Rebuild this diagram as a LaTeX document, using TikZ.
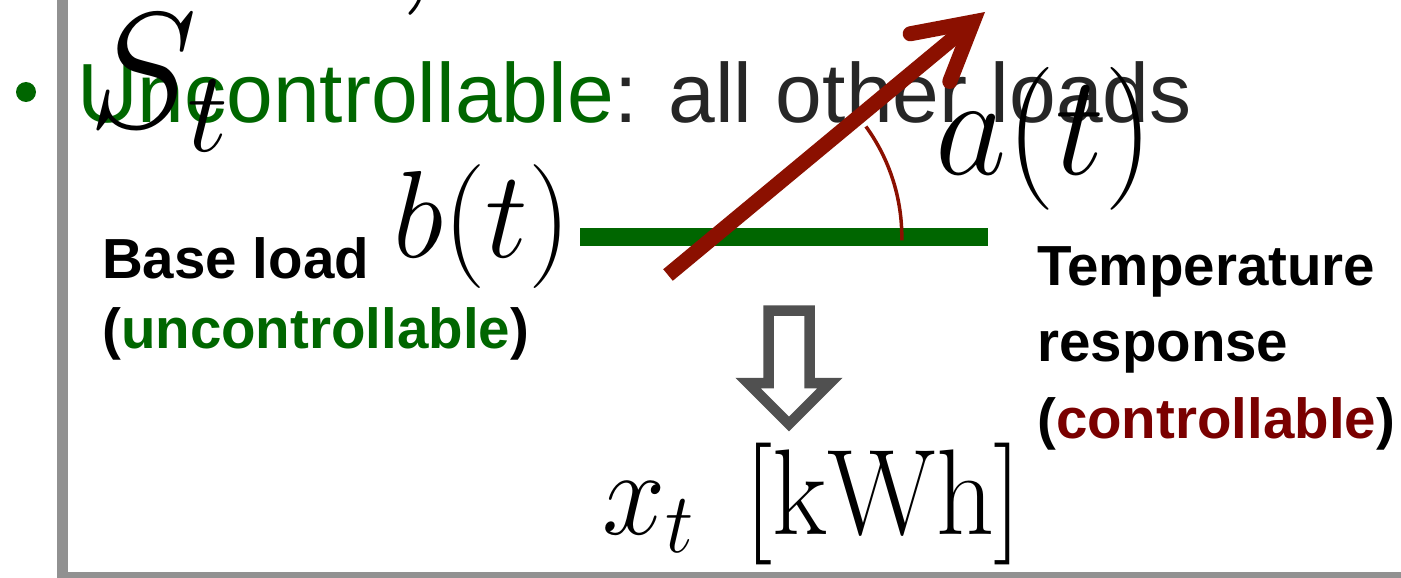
\RequirePackage{fix-cm}
\documentclass[tikz,border=0pt]{standalone}
\usepackage{fontspec}
\usepackage{graphicx}
\newfontfamily\slidefont{Liberation Sans}
\usetikzlibrary{arrows.meta}
\definecolor{loadgreen}{RGB}{0,102,0}
\definecolor{respred}{RGB}{139,16,0}
\definecolor{ctrlred}{RGB}{122,0,0}
\definecolor{framegray}{RGB}{145,145,145}
\definecolor{textgray}{RGB}{38,38,38}
\definecolor{arrgray}{RGB}{80,80,80}

\begin{document}
\begin{tikzpicture}[x=1pt, y=-1pt,
  head/.style={anchor=base west, inner sep=0pt, text=textgray, font=\slidefont\fontsize{84}{100}\selectfont},
  lbl/.style={anchor=base west, inner sep=0pt, align=left, font=\slidefont\bfseries\fontsize{56.5}{#1}\selectfont},
  sym/.style={anchor=base west, inner sep=0pt},
  frame/.style={draw=framegray, line width=11pt},
  hollow/.style={draw=arrgray, fill=white, line width=10.5pt},
  resp/.style={draw=respred, line width=15pt, -{Straight Barb[length=56pt, width=62pt, line cap=round]}},
  angle/.style={draw=respred, line width=3.5pt},
  base/.style={draw=loadgreen, line width=18pt}]
  \useasboundingbox (0,0) rectangle (1401,578);
  \draw[frame] (62,-10) -- (62,577) -- (1420,577);

  \node[circle, fill=loadgreen, minimum size=20pt, inner sep=0pt] (dot) at (26,92) {};
  \node[head] (title) at (77,122)
    {\textcolor{loadgreen}{Uncontrollable}: all other loads};

  % symbols
  \node[sym, font=\fontsize{165}{165}\selectfont] (comma) at (392,-16) {$,$};
  \node[sym, font=\fontsize{165}{165}\selectfont] (st) at (88,127) {$S_t$};
  \node[sym, font=\fontsize{124}{124}\selectfont] (bt) at (393,257) {\scalebox{0.97}[1]{$b(t)$}};
  \node[sym, font=\fontsize{143}{143}\selectfont] (at) at (935,174) {\scalebox{0.97}[1]{$a(t)$}};

  \coordinate (gl) at (580,237);
  \coordinate (gr) at (988,237);
  \coordinate (tail) at (668,275);
  \coordinate (tip) at (985,12);
  \coordinate (cross) at (intersection of tail--tip and gl--gr);
  \draw[base] (gl) -- (gr);
  \draw[resp] (tail) -- (tip);
  \draw[angle] (cross) ++(1:188) arc[start angle=1, end angle=-36, radius=188];

  \node[lbl=70] (baselbl) at (102,348) {Base load\\(\textcolor{loadgreen}{uncontrollable})};
  \node[lbl=76.5] (templbl) at (1037,438) {Temperature\\response\\(\textcolor{ctrlred}{controllable})};

  \draw[hollow] (768.5,310.5) -- (809.5,310.5) -- (809.5,383) -- (830,383)
    -- (789,424) -- (748,383) -- (768.5,383) -- cycle;
  \node[sym, font=\fontsize{122}{122}\selectfont] (xt) at (602,534)
    {\scalebox{0.93}[1]{$x_t\mkern8mu[\mathrm{kWh}]$}};
\end{tikzpicture}
\end{document}
